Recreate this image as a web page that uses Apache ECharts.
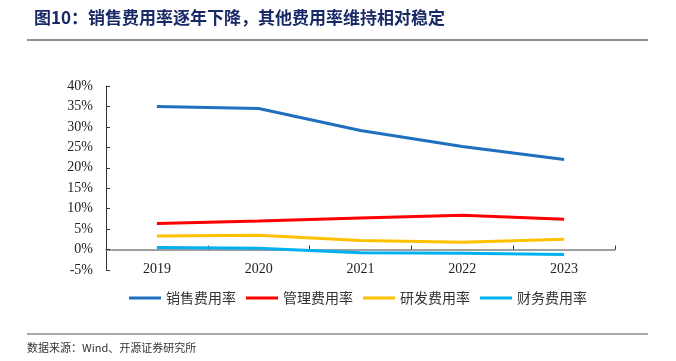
<!DOCTYPE html>
<html><head><meta charset="utf-8">
<script src="https://cdn.jsdelivr.net/npm/echarts@6/dist/echarts.min.js"></script>
<style>html,body{margin:0;padding:0;background:#fff}#c{width:676px;height:361px}</style>
</head><body><div id="c"></div>
<script>
const years = ['2019','2020','2021','2022','2023'];
const salesRate = [35.0, 34.5, 29.1, 25.2, 22.0];
const adminRate = [6.4, 7.0, 7.7, 8.4, 7.4];
const rdRate = [3.3, 3.5, 2.2, 1.8, 2.5];
const finRate = [0.5, 0.3, -0.8, -0.9, -1.2];
const seriesNames = ['销售费用率','管理费用率','研发费用率','财务费用率'];
const colors = ['#1F6FBF','#FF0000','#FFC000','#00B0F0'];
const titleText = '图10：销售费用率逐年下降，其他费用率维持相对稳定';
const sourceText = '数据来源：Wind、开源证券研究所';

const chart = echarts.init(document.getElementById('c'));
const serif = '"Liberation Serif","Times New Roman","Noto Sans CJK SC",serif';
const dataSets = [salesRate, adminRate, rdRate, finRate];
chart.setOption({
  animation: false,
  color: colors,
  grid: {left: 106, right: 61, top: 86, bottom: 91},
  legend: {
    data: seriesNames, left: 124, top: 286, itemWidth: 32, itemHeight: 3, itemGap: 10,
    icon: 'rect',
    textStyle: {fontFamily: '"Noto Sans CJK SC",serif', fontSize: 14, color: '#333'}
  },
  xAxis: {
    type: 'category', data: years, boundaryGap: true,
    axisLine: {onZero: true, lineStyle: {color: '#808080', width: 1.5}},
    axisTick: {show: true, inside: true, length: 4, lineStyle: {color: '#333'}},
    axisLabel: {fontFamily: serif, fontSize: 14, color: '#222', margin: -8}
  },
  yAxis: {
    type: 'value', min: -5, max: 40, interval: 5,
    axisLine: {show: true, lineStyle: {color: '#333'}},
    axisTick: {show: true, inside: true, length: 4, lineStyle: {color: '#333'}},
    splitLine: {show: false},
    axisLabel: {formatter: '{value}%', fontFamily: serif, fontSize: 14, color: '#222', margin: 13}
  },
  series: seriesNames.map((n, i) => ({
    name: n, type: 'line', data: dataSets[i], symbol: 'none',
    lineStyle: {width: 3, color: colors[i]}
  })),
  graphic: [
    {type: 'text', left: 34, top: 9, style: {text: titleText, fill: '#1A2A66', font: 'bold 17px "Noto Sans CJK SC",serif'}},
    {type: 'line', shape: {x1: 27, y1: 40, x2: 648, y2: 40}, style: {stroke: '#222', lineWidth: 1.2}},
    {type: 'line', shape: {x1: 27, y1: 334, x2: 648, y2: 334}, style: {stroke: '#555', lineWidth: 1.2}},
    {type: 'text', left: 27, top: 342, style: {text: sourceText, fill: '#333', font: '11px "Noto Sans CJK SC",serif'}}
  ]
});
</script></body></html>
